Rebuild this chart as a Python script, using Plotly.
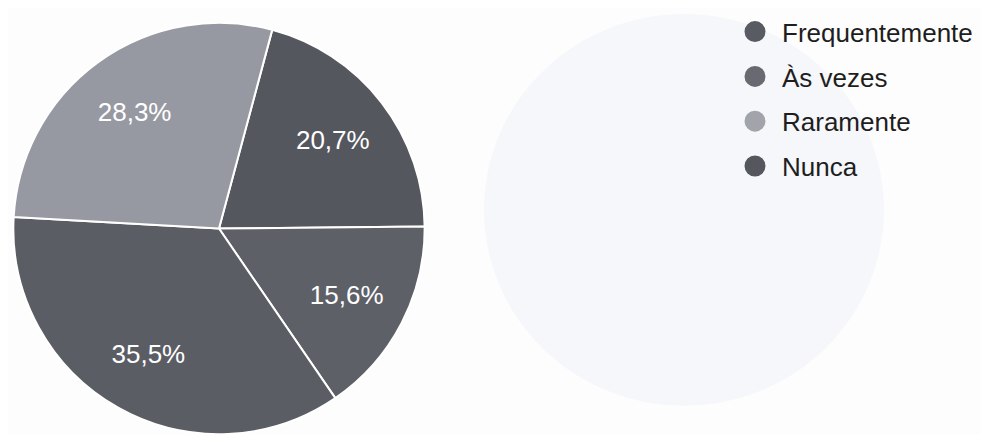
import plotly.graph_objects as go

# Data (clockwise from the first slice)
labels = ["Frequentemente", "Nunca", "Às vezes", "Raramente"]
values = [20.7, 15.6, 35.5, 28.3]
slice_colors = ["#55575f", "#5e6068", "#5b5d65", "#9799a2"]

# Legend order as shown in the reference
legend_labels = ["Frequentemente", "Às vezes", "Raramente", "Nunca"]
legend_colors = ["#595b63", "#686a72", "#a2a4ac", "#55575f"]

W, H = 989, 434
FONT = "Arial, 'Liberation Sans', sans-serif"
pie_domain = dict(x=[1 / W, 421 / W], y=[8 / H, 428 / H])

fig = go.Figure()

# Filled pie (slices + white separators)
fig.add_trace(go.Pie(
    labels=labels,
    values=values,
    sort=False,
    direction="clockwise",
    rotation=15,
    marker=dict(colors=slice_colors, line=dict(color="white", width=2)),
    textinfo="none",
    domain=pie_domain,
    showlegend=False,
    hoverinfo="label+percent",
))

# Same slices, transparent, used only to place the percentage labels further out
fig.add_trace(go.Pie(
    labels=labels,
    values=values,
    sort=False,
    direction="clockwise",
    rotation=15,
    hole=0.4,
    marker=dict(colors=["rgba(0,0,0,0)"] * len(values), line=dict(width=0)),
    texttemplate="%{value:.1f}%",
    textposition="inside",
    insidetextorientation="horizontal",
    textfont=dict(family=FONT, size=26, color="white"),
    domain=pie_domain,
    showlegend=False,
    hoverinfo="skip",
))

for i, (lab, col) in enumerate(zip(legend_labels, legend_colors)):
    fig.add_trace(go.Scatter(
        x=[None], y=[None], mode="markers", name=lab,
        legendgroup=f"g{i}",
        marker=dict(symbol="circle", size=16, color=col, line=dict(color=col, width=5)),
        showlegend=True,
    ))

fig.update_layout(
    width=W, height=H,
    margin=dict(l=0, r=0, t=0, b=0),
    paper_bgcolor="#fdfdfd",
    plot_bgcolor="rgba(0,0,0,0)",
    separators=",.",
    xaxis=dict(visible=False),
    yaxis=dict(visible=False),
    legend=dict(
        x=720 / W, y=1 + 9 / H, xanchor="left", yanchor="top",
        font=dict(family=FONT, size=26, color="#1e1e1e"),
        tracegroupgap=8,
        itemwidth=44,
        itemsizing="trace",
        bgcolor="rgba(0,0,0,0)",
    ),
    shapes=[dict(
        type="circle", xref="paper", yref="paper",
        x0=476 / W, x1=876 / W, y0=(H - 397) / H, y1=(H + 3) / H,
        fillcolor="#f6f7fa", line=dict(width=0), layer="below",
    )],
)

fig.write_html("out.html")
